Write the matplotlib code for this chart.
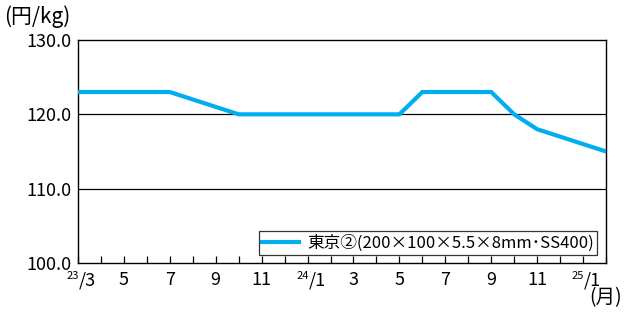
import matplotlib
matplotlib.use("Agg")
import matplotlib.pyplot as plt
import matplotlib.transforms as mtransforms

plt.rcParams['font.family'] = ['Noto Sans CJK JP', 'DejaVu Sans']

# monthly prices, 2023/3 .. 2025/2 (yen/kg)
months = list(range(24))
prices = [123, 123, 123, 123, 123, 122, 121, 120, 120, 120,
          120, 120, 120, 120, 120, 123, 123, 123, 123, 120,
          118, 117, 116, 115]
# tick labels every other month: (year prefix, month)
tick_pos = [0, 2, 4, 6, 8, 10, 12, 14, 16, 18, 20, 22]
tick_year = ['23', '', '', '', '', '24', '', '', '', '', '', '25']
tick_month = ['/3', '5', '7', '9', '11', '/1', '3', '5', '7', '9', '11', '/1']
yticks = [100, 110, 120, 130]
series_name = '東京②(200×100×5.5×8mm･SS400)'

fig = plt.figure(figsize=(6.27, 3.18), dpi=100)
ax = fig.add_axes([78 / 627, 1 - 263 / 318, 528 / 627, 223 / 318])

ax.plot(months, prices, color='#00AEEF', linewidth=3.0, solid_joinstyle='miter',
        label=series_name, zorder=3)

ax.set_xlim(0, 23)
ax.set_ylim(100, 130)
ax.set_yticks(yticks)
ax.set_yticklabels([f'{v:.1f}' for v in yticks], fontsize=13)
ax.tick_params(axis='y', length=0, pad=5)
for v in [110, 120]:
    ax.axhline(v, color='black', linewidth=0.9, zorder=1)

ax.set_xticks(months)
ax.set_xticklabels([])
ax.tick_params(axis='x', direction='in', length=5, width=0.9)
for s in ax.spines.values():
    s.set_linewidth(1.0)

trans = mtransforms.blended_transform_factory(ax.transData, ax.transAxes)
for p, yr, mo in zip(tick_pos, tick_year, tick_month):
    if yr:
        ax.text(p + 0.05, -0.077, mo, transform=trans, fontsize=13, ha='left', va='center')
        ax.text(p + 0.05, -0.058, yr, transform=trans, fontsize=8, ha='right', va='center')
    else:
        ax.text(p, -0.077, mo, transform=trans, fontsize=13, ha='center', va='center')

leg = ax.legend(loc='lower right', bbox_to_anchor=(0.99, 0.02), fontsize=12,
                frameon=True, fancybox=False, edgecolor='black', borderpad=0.2,
                handlelength=2.2, handletextpad=0.5, borderaxespad=0.2)
leg.get_frame().set_linewidth(0.9)

fig.text(4 / 627, 1 - 17 / 318, '(円/kg)', fontsize=15, ha='left', va='center')
fig.text(622 / 627, 1 - 298 / 318, '(月)', fontsize=14, ha='right', va='center')

fig.savefig('out.png', dpi=100)
